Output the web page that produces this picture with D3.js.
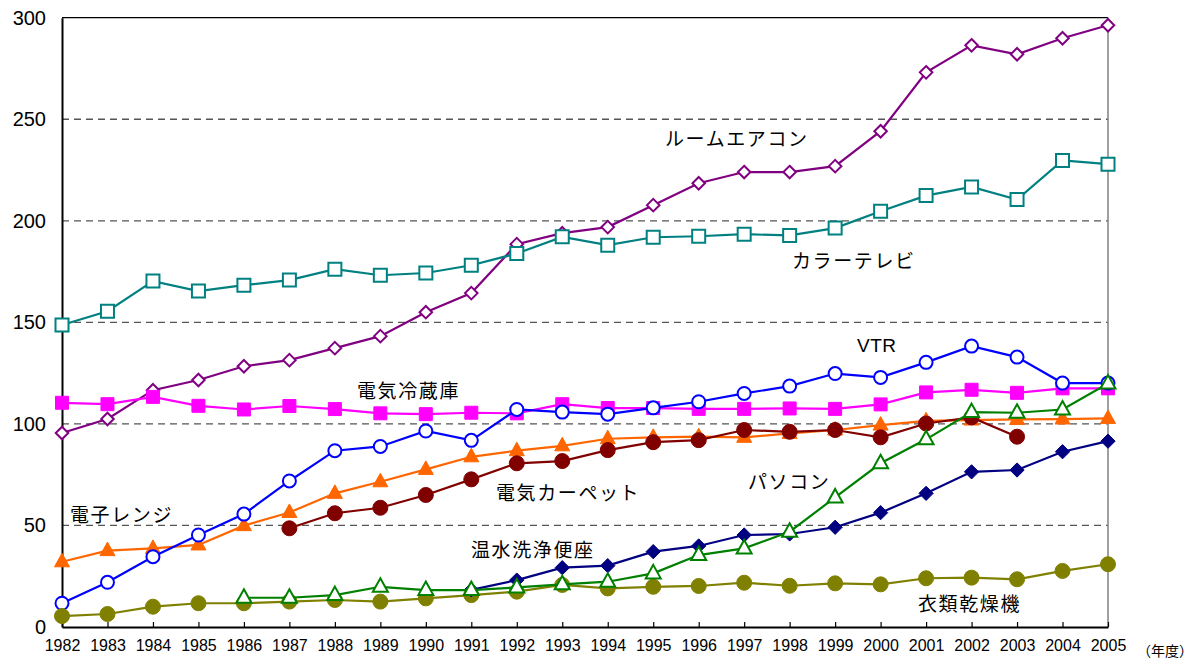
<!DOCTYPE html>
<html>
<head>
<meta charset="utf-8">
<script src="https://cdn.jsdelivr.net/npm/d3@7/dist/d3.min.js"></script>
<style>
  html, body { margin: 0; padding: 0; background: #fff; }
  svg { display: block; }
  .ylab text { font-family: "Liberation Sans", Arial, sans-serif; font-size: 20px; fill: #000; }
  .xlab text { font-family: "Liberation Sans", Arial, sans-serif; font-size: 16px; fill: #000; }
  .series-label { font-family: "Noto Sans CJK JP", sans-serif; font-size: 19px; letter-spacing: 1.6px; fill: #000; }
</style>
</head>
<body>
<svg id="chart" width="1197" height="664"></svg>
<script>
// Household appliance ownership per 100 households, fiscal years 1982–2005
const years = d3.range(1982, 2006);
const yTicks = [0, 50, 100, 150, 200, 250, 300];

const roomAircon   = [95.5, 102.4, 116.6, 121.6, 128.4, 131.4, 137.3, 143.2, 155.0, 164.4, 188.5, 193.9, 196.9, 207.7, 218.5, 224.0, 224.0, 226.9, 244.1, 273.1, 286.4, 282.0, 289.9, 296.3];
const colorTv      = [148.7, 155.5, 170.3, 165.4, 168.3, 170.8, 176.2, 173.2, 174.3, 178.1, 183.9, 192.1, 188.0, 191.9, 192.4, 193.4, 192.8, 196.4, 204.7, 212.4, 216.7, 210.5, 229.7, 227.9];
const fridge       = [110.4, 109.7, 113.3, 108.9, 107.1, 108.8, 107.3, 105.2, 104.8, 105.5, 105.2, 109.7, 107.8, 107.8, 107.4, 107.4, 107.6, 107.4, 109.6, 115.5, 116.8, 115.3, 117.5, 117.5];
const microwave    = [32.1, 37.6, 38.7, 40.4, 49.9, 56.4, 65.8, 71.5, 77.6, 83.8, 86.8, 89.2, 92.7, 93.4, 93.7, 93.4, 95.3, 97.0, 99.4, 101.5, 101.9, 102.2, 102.4, 102.7];
const carpet       = [null, null, null, null, null, 48.6, 56.0, 58.7, 65.0, 72.7, 80.6, 81.7, 87.1, 91.0, 92.0, 97.0, 96.1, 97.0, 93.4, 100.2, 103.2, 93.7, null, null];
const vtr          = [11.7, 22.0, 34.6, 45.3, 55.6, 71.9, 86.8, 88.9, 96.5, 91.9, 107.1, 105.8, 104.8, 107.9, 110.9, 115.0, 118.6, 124.8, 122.9, 130.3, 138.3, 132.9, 120.1, 120.1];
const dryer        = [5.4, 6.4, 10.0, 11.7, 11.7, 12.5, 13.3, 12.5, 14.1, 15.7, 17.4, 20.7, 19.0, 19.8, 20.2, 21.8, 20.3, 21.5, 21.0, 24.0, 24.3, 23.5, 27.6, 30.9];
const bidet        = [null, null, null, null, null, null, null, null, null, 18.3, 23.1, 29.2, 30.2, 37.1, 39.9, 45.3, 45.8, 49.1, 56.3, 65.8, 76.4, 77.3, 86.3, 91.5];
const pc           = [null, null, null, null, 14.4, 14.4, 15.7, 19.8, 18.2, 18.2, 19.5, 21.0, 22.3, 26.4, 35.4, 38.7, 46.9, 63.8, 80.6, 92.4, 105.8, 105.5, 107.1, 119.9];

const series = [
  { name: "ルームエアコン", values: roomAircon, color: "#800080", marker: "diamond", filled: false },
  { name: "カラーテレビ",   values: colorTv,    color: "#008080", marker: "square",  filled: false },
  { name: "電気冷蔵庫",     values: fridge,     color: "#FF00FF", marker: "square",  filled: true  },
  { name: "電子レンジ",     values: microwave,  color: "#FF6600", marker: "triangle",filled: true  },
  { name: "電気カーペット", values: carpet,     color: "#800000", marker: "circle",  filled: true  },
  { name: "VTR",            values: vtr,        color: "#0000FF", marker: "circle",  filled: false },
  { name: "衣類乾燥機",     values: dryer,      color: "#808000", marker: "circle",  filled: true  },
  { name: "温水洗浄便座",   values: bidet,      color: "#000080", marker: "diamond", filled: true  },
  { name: "パソコン",       values: pc,         color: "#008000", marker: "triangle",filled: false }
];

// Label placement for each series name
const labels = [
  { text: "ルームエアコン", x: 665, y: 137 },
  { text: "カラーテレビ",   x: 792, y: 259 },
  { text: "VTR",            x: 857, y: 345, latin: true },
  { text: "電気冷蔵庫",     x: 357, y: 389 },
  { text: "電子レンジ",     x: 70,  y: 513 },
  { text: "電気カーペット", x: 496, y: 491 },
  { text: "パソコン",       x: 748, y: 480 },
  { text: "温水洗浄便座",   x: 471, y: 548 },
  { text: "衣類乾燥機",     x: 918, y: 602 }
];

const svg = d3.select("#chart");
const plotLeft = 62, plotRight = 1108, plotTop = 17.7, plotBottom = 627;

const x = d3.scaleLinear().domain([1982, 2005]).range([plotLeft, plotRight]);
const y = d3.scaleLinear().domain([0, 300]).range([plotBottom, plotTop]);

// Dashed horizontal gridlines
svg.append("g")
  .selectAll("line")
  .data(yTicks.filter(d => d > 0 && d < 300))
  .join("line")
  .attr("x1", plotLeft).attr("x2", plotRight)
  .attr("y1", d => y(d)).attr("y2", d => y(d))
  .attr("stroke", "#555").attr("stroke-width", 1.3)
  .attr("stroke-dasharray", "7,5");

// Frame: top line and right-hand line at 2005
svg.append("line")
  .attr("x1", plotLeft).attr("x2", plotRight).attr("y1", y(300)).attr("y2", y(300))
  .attr("stroke", "#000").attr("stroke-width", 1.3);
svg.append("line")
  .attr("x1", plotRight).attr("x2", plotRight).attr("y1", y(300)).attr("y2", y(0))
  .attr("stroke", "#808080").attr("stroke-width", 1.5);

// Y axis
const yAxis = svg.append("g")
  .attr("class", "ylab")
  .attr("transform", `translate(${plotLeft},0)`)
  .call(d3.axisLeft(y).tickValues(yTicks).tickSize(0).tickPadding(16).tickFormat(d3.format("d")));
yAxis.select(".domain").attr("stroke", "#000").attr("stroke-width", 2);

// X axis with inward ticks
const xAxis = svg.append("g")
  .attr("class", "xlab")
  .attr("transform", `translate(0,${plotBottom})`)
  .call(d3.axisBottom(x).tickValues(years).tickSizeInner(-5).tickSizeOuter(0).tickPadding(13).tickFormat(d3.format("d")));
xAxis.select(".domain").attr("stroke", "#000").attr("stroke-width", 2);
xAxis.selectAll(".tick line").attr("stroke", "#000").attr("stroke-width", 1.2);

svg.append("text")
  .attr("x", 1137).attr("y", 652)
  .attr("dominant-baseline", "middle")
  .attr("font-family", "Noto Sans CJK JP, sans-serif")
  .attr("font-size", 14)
  .text("（年度）");

// Marker shapes
function markerPath(type) {
  switch (type) {
    case "square": return "M-6.5,-6.5H6.5V6.5H-6.5Z";
    case "triangle": return "M0,-8.5L7.5,5L-7.5,5Z";
    default: return null;
  }
}

const line = d3.line()
  .defined(d => d.v != null)
  .x(d => x(d.year))
  .y(d => y(d.v));

series.forEach(s => {
  const pts = s.values.map((v, i) => ({ year: years[i], v }));
  const g = svg.append("g");
  g.append("path")
    .datum(pts)
    .attr("d", line)
    .attr("fill", "none")
    .attr("stroke", s.color)
    .attr("stroke-width", 2.2);

  const valid = pts.filter(d => d.v != null);
  const fill = s.filled ? s.color : "#fff";
  if (s.marker === "circle") {
    g.selectAll("circle")
      .data(valid)
      .join("circle")
      .attr("cx", d => x(d.year)).attr("cy", d => y(d.v))
      .attr("r", s.filled ? 7.5 : 6.5)
      .attr("fill", fill)
      .attr("stroke", s.color)
      .attr("stroke-width", s.filled ? 1 : 2);
  } else {
    const dPath = s.marker === "diamond"
      ? (s.filled ? d3.symbol(d3.symbolDiamond2, 130)() : d3.symbol(d3.symbolDiamond2, 100)())
      : markerPath(s.marker);
    g.selectAll("path.m")
      .data(valid)
      .join("path")
      .attr("class", "m")
      .attr("d", dPath)
      .attr("transform", d => `translate(${x(d.year)},${y(d.v)})`)
      .attr("fill", fill)
      .attr("stroke", s.color)
      .attr("stroke-width", s.filled ? 1 : 2);
  }
});

// Series names
svg.append("g")
  .selectAll("text")
  .data(labels)
  .join("text")
  .attr("class", "series-label")
  .attr("x", d => d.x).attr("y", d => d.y)
  .attr("dominant-baseline", "central")
  .style("font-family", d => d.latin ? "'Liberation Sans', Arial, sans-serif" : null)
  .style("letter-spacing", d => d.latin ? "0.5px" : null)
  .text(d => d.text);
</script>
</body>
</html>
